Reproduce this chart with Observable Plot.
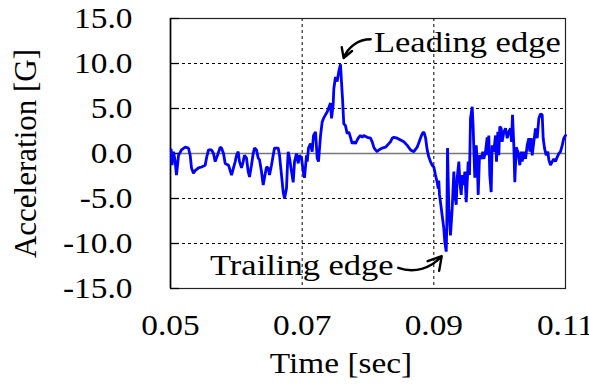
<!DOCTYPE html>
<html><head><meta charset="utf-8">
<script src="https://cdn.jsdelivr.net/npm/d3@7"></script>
<script src="https://cdn.jsdelivr.net/npm/@observablehq/plot@0.6"></script>
<style>body{margin:0;background:#fff}</style>
</head><body><div id="chart"></div>
<script>
// Time [sec]
const time = [
0.05011,0.05023,0.05046,0.05071,0.05091,0.05122,0.05167,0.05223,0.05273,0.05299,
0.05319,0.05349,0.05375,0.05425,0.05471,0.05527,0.05547,0.05577,0.05623,0.05653,
0.05679,0.05714,0.05755,0.05775,0.05805,0.05831,0.05881,0.05927,0.05957,0.05983,
0.06003,0.06028,0.06048,0.06079,0.06104,0.06124,0.06154,0.06180,0.06200,0.06230,
0.06256,0.06276,0.06306,0.06332,0.06352,0.06382,0.06408,0.06428,0.06458,0.06484,
0.06504,0.06534,0.06560,0.06580,0.06636,0.06656,0.06686,0.06712,0.06732,0.06762,
0.06777,0.06788,0.06808,0.06838,0.06864,0.06884,0.06914,0.06940,0.06960,0.06990,
0.07016,0.07035,0.07066,0.07077,0.07096,0.07127,0.07152,0.07172,0.07203,0.07228,
0.07248,0.07279,0.07304,0.07324,0.07354,0.07380,0.07400,0.07430,0.07446,0.07471,
0.07481,0.07506,0.07532,0.07556,0.07582,0.07597,0.07613,0.07632,0.07658,0.07684,
0.07708,0.07734,0.07760,0.07784,0.07810,0.07836,0.07860,0.07886,0.07912,0.07936,
0.07988,0.08038,0.08064,0.08088,0.08114,0.08140,0.08164,0.08216,0.08266,0.08316,
0.08342,0.08368,0.08392,0.08444,0.08494,0.08544,0.08596,0.08646,0.08696,0.08747,
0.08797,0.08823,0.08848,0.08873,0.08899,0.08924,0.08949,0.08975,0.09000,0.09025,
0.09051,0.09066,0.09075,0.09086,0.09101,0.09127,0.09151,0.09166,0.09188,0.09197,
0.09208,0.09228,0.09253,0.09279,0.09304,0.09319,0.09340,0.09355,0.09380,0.09395,
0.09416,0.09431,0.09455,0.09471,0.09492,0.09507,0.09522,0.09542,0.09557,0.09583,
0.09598,0.09607,0.09622,0.09644,0.09659,0.09674,0.09694,0.09724,0.09744,0.09759,
0.09785,0.09810,0.09819,0.09835,0.09850,0.09871,0.09886,0.09911,0.09937,0.09952,
0.09972,0.09987,0.10002,0.10023,0.10038,0.10063,0.10089,0.10115,0.10139,0.10165,
0.10180,0.10195,0.10215,0.10230,0.10251,0.10276,0.10306,0.10327,0.10342,0.10367,
0.10393,0.10418,0.10443,0.10458,0.10479,0.10494,0.10519,0.10544,0.10570,0.10595,
0.10620,0.10646,0.10661,0.10681,0.10706,0.10731,0.10747,0.10772,0.10798,0.10822,
0.10848,0.10874,0.10899,0.10924,0.10950,0.10974,0.11000
];
// Acceleration [G]
const accel = [
0.4,-1.3,0.2,-0.9,-2.4,-0.2,0.4,0.7,0.6,-0.2,
-1.6,-2.2,-1.9,-1.6,-1.5,-1.3,-0.5,0.4,0.4,0.0,
-0.9,-0.2,0.7,0.6,0.0,-1.1,-1.3,-2.4,-1.6,-0.9,
-0.2,0.2,-0.9,-1.6,-0.9,-0.2,-0.5,-2.0,-2.6,-1.3,
0.0,0.6,0.4,-0.5,-0.7,-2.0,-3.5,-2.7,-1.5,-1.6,
-2.4,-1.3,-0.2,0.6,0.6,-0.2,-2.4,-4.3,-5.0,-3.9,
-1.3,0.2,-0.5,-2.0,-3.2,-0.9,0.0,-1.1,-0.2,-0.5,
-2.0,-2.7,-0.2,-0.9,0.6,1.1,0.2,2.0,2.4,-0.5,
-0.9,2.0,3.5,3.9,4.3,4.6,5.0,5.6,3.9,5.4,
7.2,8.5,8.0,9.1,9.9,8.0,6.1,3.3,3.1,2.2,
2.4,1.8,1.1,1.3,1.1,1.5,1.8,2.0,1.8,2.0,
1.8,1.7,1.3,0.7,0.4,0.2,0.4,0.6,0.7,1.1,
1.3,1.7,1.8,1.7,1.5,1.3,0.9,0.4,0.2,0.7,
1.7,2.2,2.4,1.8,0.4,-0.4,-0.9,-1.3,-1.5,-2.4,
-3.2,-3.9,-3.0,-4.6,-5.4,-6.9,-8.3,-9.8,-10.9,-8.0,
0.6,-6.1,-9.1,-6.1,-2.0,-4.6,-5.7,-2.7,-0.9,-3.2,
-4.6,-2.4,-3.5,-2.0,-5.4,-3.2,-0.9,-2.4,3.9,5.2,
2.8,0.6,-2.7,0.9,-0.9,-4.6,-0.2,-0.6,0.2,-0.6,
0.2,1.8,-0.2,2.0,-2.4,-4.3,0.9,0.2,2.0,-0.9,
2.4,-0.2,3.0,2.8,1.3,2.4,2.8,1.7,2.4,2.8,
1.3,4.3,0.9,-3.2,0.7,0.2,-1.3,0.2,-0.9,0.2,
-0.6,0.9,1.7,0.2,1.7,-0.2,1.3,2.8,1.7,3.9,
4.4,4.3,1.7,0.6,-0.2,0.2,-0.7,-1.3,-0.9,-0.6,
-0.9,-0.4,0.0,0.2,0.9,1.7,2.0
];
const yTicks = [-15, -10, -5, 0, 5, 10, 15];
const yGrid = [-10, -5, 5, 10];
const xTicks = [0.05, 0.07, 0.09, 0.11];
const xGrid = [0.07, 0.09];
// Annotations
const leadingLabel = {label: "Leading edge", t: 0.0809, g: 12.3};
const trailingLabel = {label: "Trailing edge", t: 0.0839, g: -12.5};
const arrowTime1 = [0.0804, 0.0846];
const arrowAccel1 = [12.7, -12.7];
const arrowTime2 = [0.0763, 0.0912];
const arrowAccel2 = [10.6, -11.4];

const series = time.map((t, i) => ({t, g: accel[i]}));
const arrows = arrowTime1.map((t1, i) => ({t1, g1: arrowAccel1[i], t2: arrowTime2[i], g2: arrowAccel2[i]}));

const FONT = "'Liberation Serif', 'Times New Roman', serif";
const FS = 29;

const chart = Plot.plot({
  width: 589, height: 386,
  marginLeft: 170, marginRight: 24, marginTop: 18, marginBottom: 98,
  style: {fontFamily: FONT, fontSize: FS + "px", color: "#000", background: "#fff"},
  x: {domain: [0.05, 0.11]},
  y: {domain: [-15, 15]},
  marks: [
    Plot.gridY(yGrid, {stroke: "#000", strokeOpacity: 1, strokeWidth: 1, strokeDasharray: "3,3"}),
    Plot.gridX(xGrid, {stroke: "#000", strokeOpacity: 1, strokeWidth: 1, strokeDasharray: "3,3"}),
    Plot.ruleY([0], {stroke: "#777", strokeWidth: 1.6}),
    Plot.frame({stroke: "#222", strokeWidth: 1.2}),
    Plot.ruleX([0.05], {stroke: "#000", strokeWidth: 1.6}),
    Plot.axisY(yTicks, {tickSize: -9, text: null, label: null, strokeWidth: 1.3}),
    Plot.axisY(yTicks, {tickSize: 0, tickPadding: 38, tickFormat: d => d.toFixed(1), label: null, fontSize: FS, className: "stretch"}),
    Plot.axisX(xTicks, {tickSize: 0, tickPadding: 26, tickFormat: d => d.toFixed(2), label: null, fontSize: FS, className: "stretch"}),
    Plot.line(series, {x: "t", y: "g", stroke: "#0000ff", strokeWidth: 2.8, strokeLinejoin: "miter"}),
    Plot.arrow(arrows, {x1: "t1", y1: "g1", x2: "t2", y2: "g2", bend: -35, stroke: "#000", strokeWidth: 2.4, headLength: 12}),
    Plot.text([leadingLabel], {x: "t", y: "g", text: "label", textAnchor: "start", fontSize: FS, fill: "#000", lineAnchor: "middle", className: "stretch-wide"}),
    Plot.text([trailingLabel], {x: "t", y: "g", text: "label", textAnchor: "end", fontSize: FS, fill: "#000", lineAnchor: "middle", className: "stretch-wide"}),
    Plot.text(["Time [sec]"], {frameAnchor: "bottom", dx: -27, dy: 75, fontSize: FS, fill: "#000", lineAnchor: "middle", className: "stretch"}),
    Plot.text(["Acceleration [G]"], {frameAnchor: "left", textAnchor: "middle", dx: -144, rotate: -90, fontSize: 31, fill: "#000", lineAnchor: "middle"})
  ]
});
document.getElementById("chart").appendChild(chart);
// Widen glyphs slightly to match the stretched serif lettering of the original
function stretch(sel, k) {
  chart.querySelectorAll(sel).forEach(el => {
    const w = el.getComputedTextLength();
    if (w > 0) { el.setAttribute("textLength", (w * k).toFixed(1)); el.setAttribute("lengthAdjust", "spacingAndGlyphs"); }
  });
}
stretch("g.stretch text", 1.15);
stretch("g.stretch-wide text", 1.19);
</script>
</body></html>
